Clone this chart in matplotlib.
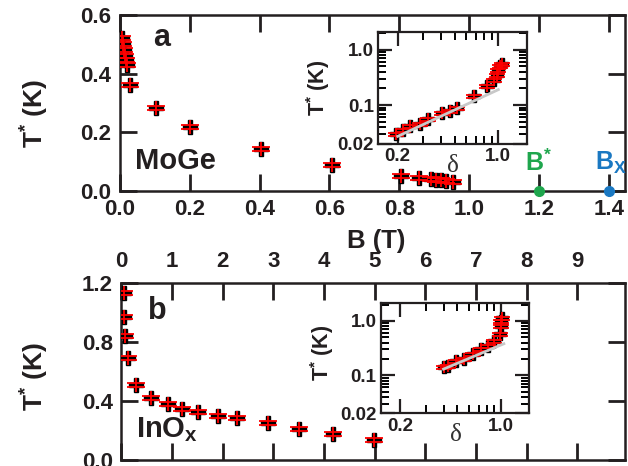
import numpy as np
import matplotlib
matplotlib.use("Agg")
import matplotlib.pyplot as plt
import matplotlib.ticker as mticker
from matplotlib.path import Path

plt.rcParams['font.family'] = ['Liberation Sans', 'DejaVu Sans']
plt.rcParams['font.weight'] = 'bold'
plt.rcParams['mathtext.fontset'] = 'custom'
plt.rcParams['mathtext.rm'] = 'Liberation Sans:bold'
plt.rcParams['mathtext.it'] = 'Liberation Sans:bold'
plt.rcParams['mathtext.bf'] = 'Liberation Sans:bold'
plt.rcParams['mathtext.default'] = 'regular'
plt.rcParams['xtick.direction'] = 'in'
plt.rcParams['ytick.direction'] = 'in'

INK = '#231f20'
GREEN = '#1fa64d'
BLUE = '#1a78c2'

# panel a: MoGe, T* vs B
moge_B = [0.005, 0.009, 0.012, 0.014, 0.016, 0.019, 0.029, 0.104, 0.202, 0.404,
          0.606, 0.805, 0.856, 0.89, 0.905, 0.92, 0.935, 0.955]
moge_T = [0.52, 0.50, 0.48, 0.46, 0.445, 0.43, 0.362, 0.283, 0.217, 0.143,
          0.089, 0.052, 0.044, 0.041, 0.039, 0.036, 0.034, 0.032]
moge_xticks = [0.0, 0.2, 0.4, 0.6, 0.8, 1.0, 1.2, 1.4]
moge_yticks = [0.0, 0.2, 0.4, 0.6]

# inset a: T* vs delta
moge_d = [0.196, 0.218, 0.243, 0.285, 0.326, 0.404, 0.462, 0.514, 0.673,
          0.833, 0.93, 0.98, 1.0, 1.03, 1.06]
moge_Td = [0.030, 0.035, 0.042, 0.045, 0.055, 0.073, 0.078, 0.090, 0.145,
           0.22, 0.29, 0.356, 0.44, 0.50, 0.55]
moge_fit_d = [0.2, 1.0]
moge_fit_T = [0.027, 0.19]

# panel b: InOx, T* vs B
inox_B = [0.065, 0.065, 0.08, 0.13, 0.30, 0.59, 0.92, 1.19, 1.51, 1.91, 2.29,
          2.90, 3.50, 4.18, 4.99]
inox_T = [1.13, 0.97, 0.84, 0.69, 0.508, 0.417, 0.379, 0.343, 0.327, 0.297,
          0.282, 0.248, 0.209, 0.175, 0.134]
inox_xticks = list(range(10))
inox_yticks = [0.0, 0.4, 0.8, 1.2]

# inset b
inox_d = [0.404, 0.43, 0.486, 0.557, 0.637, 0.728, 0.81, 0.90, 0.98, 1.0, 1.0, 1.02]
inox_Td = [0.14, 0.15, 0.185, 0.198, 0.244, 0.30, 0.347, 0.43, 0.57, 0.80, 1.0, 1.15]
inox_fit_d = [0.40, 1.05]
inox_fit_T = [0.13, 0.38]

bar_marker = Path([(-1, 0.18), (1, 0.18), (-1, -0.18), (1, -0.18), (0, -0.75), (0, 0.75)],
                  [Path.MOVETO, Path.LINETO, Path.MOVETO, Path.LINETO, Path.MOVETO, Path.LINETO])


def draw_points(ax, x, y, ms=10):
    ax.plot(x, y, ls='none', marker='P', ms=ms, color='black', mec='black', zorder=3)
    ax.plot(x, y, ls='none', marker=bar_marker, ms=ms + 3, mew=1.3, color='red',
            mfc='none', mec='red', zorder=4)


def inward_ticks(ax, xs, ys, length_pt=12, lw=2.0):
    # tick marks drawn as line collections on all four sides, pointing inward
    fig = ax.figure
    bb = ax.get_position()
    lx = length_pt / (bb.width * fig.get_figwidth() * 72)
    ly = length_pt / (bb.height * fig.get_figheight() * 72)
    xt = ax.get_xaxis_transform()
    yt = ax.get_yaxis_transform()
    kw = dict(colors=INK, linewidth=lw, zorder=2.5, clip_on=False)
    ax.vlines(xs, 0, ly, transform=xt, **kw)
    ax.vlines(xs, 1 - ly, 1, transform=xt, **kw)
    ax.hlines(ys, 0, lx, transform=yt, **kw)
    ax.hlines(ys, 1 - lx, 1, transform=yt, **kw)


def style_main(ax, xs, ys):
    for s in ax.spines.values():
        s.set_linewidth(1.8)
        s.set_color(INK)
    ax.tick_params(axis='both', which='major', direction='in', length=0, width=0,
                   labelsize=16, labelcolor=INK, pad=6)
    inward_ticks(ax, xs, ys)


def inset_ylab(v, pos):
    if v < 0.05:
        return '0.02'
    if v < 0.5:
        return '0.1'
    return '1.0'


def style_inset(ax):
    for s in ax.spines.values():
        s.set_linewidth(1.6)
        s.set_color(INK)
    ax.set_xscale('log')
    ax.set_yscale('log')
    ax.set_xlim(0.146, 1.58)
    ax.set_ylim(0.02, 2.1)
    ax.xaxis.set_major_locator(mticker.FixedLocator([0.2, 1.0]))
    ax.xaxis.set_minor_locator(mticker.FixedLocator([0.3, 0.4, 0.5, 0.6, 0.7, 0.8, 0.9]))
    ax.yaxis.set_major_locator(mticker.FixedLocator([0.02, 0.1, 1.0]))
    ax.yaxis.set_minor_locator(mticker.FixedLocator(
        [0.03, 0.04, 0.05, 0.06, 0.07, 0.08, 0.09, 0.2, 0.3, 0.4, 0.5, 0.6, 0.7, 0.8, 0.9, 2.0]))
    ax.xaxis.set_major_formatter(mticker.FormatStrFormatter('%.1f'))
    ax.yaxis.set_major_formatter(mticker.FuncFormatter(inset_ylab))
    ax.xaxis.set_minor_formatter(mticker.NullFormatter())
    ax.yaxis.set_minor_formatter(mticker.NullFormatter())
    ax.tick_params(which='major', direction='in', length=10, width=1.6,
                   top=True, right=True, labelsize=13.5, colors=INK, pad=3)
    ax.tick_params(which='minor', direction='in', length=6, width=1.4,
                   top=True, right=True)
    ax.text(0.5, -0.2, r'$\delta$', transform=ax.transAxes, ha='center', va='center',
            fontsize=18, color='#333333', family='Liberation Serif', fontweight='normal')


fig = plt.figure(figsize=(6.28, 4.66), dpi=100)

# ---- panel a ----
ax1 = fig.add_axes([0.191, 0.590, 0.804, 0.378])
draw_points(ax1, moge_B, moge_T)
ax1.set_xlim(0, 1.446)
ax1.set_ylim(0, 0.6)
ax1.xaxis.set_major_locator(mticker.FixedLocator(moge_xticks))
ax1.yaxis.set_major_locator(mticker.FixedLocator(moge_yticks))
ax1.xaxis.set_major_formatter(mticker.FormatStrFormatter('%.1f'))
ax1.yaxis.set_major_formatter(mticker.FormatStrFormatter('%.1f'))
style_main(ax1, moge_xticks, moge_yticks)
ax1.plot([1.2], [0.0], 'o', color=GREEN, ms=7, clip_on=False, zorder=5)
ax1.plot([1.4], [0.0], 'o', color=BLUE, ms=7, clip_on=False, zorder=5)
ax1.text(0.065, 0.87, 'a', transform=ax1.transAxes, fontsize=22, color=INK, va='center')
ax1.text(0.03, 0.17, 'MoGe', transform=ax1.transAxes, fontsize=21, color=INK, va='center')
ax1.text(1.2, 0.095, r'B$^{*}$', fontsize=18, color=GREEN, ha='center', va='center')
ax1.text(1.405, 0.095, r'B$_{X}$', fontsize=18, color=BLUE, ha='center', va='center')

ins1 = fig.add_axes([0.602, 0.692, 0.237, 0.239])
style_inset(ins1)
ins1.plot(moge_fit_d, moge_fit_T, color='#c8c8c8', lw=2, zorder=5)
draw_points(ins1, moge_d, moge_Td, ms=9)
fig.text(0.506, 0.812, r'T$^{*}$ (K)', rotation=90, fontsize=15.5, color=INK,
         ha='center', va='center')

# ---- panel b ----
ax2 = fig.add_axes([0.193, 0.013, 0.802, 0.380])
draw_points(ax2, inox_B, inox_T)
ax2.set_xlim(0, 9.94)
ax2.set_ylim(0, 1.2)
ax2.xaxis.set_major_locator(mticker.FixedLocator(inox_xticks))
ax2.yaxis.set_major_locator(mticker.FixedLocator(inox_yticks))
ax2.xaxis.set_major_formatter(mticker.FormatStrFormatter('%d'))
ax2.yaxis.set_major_formatter(mticker.FormatStrFormatter('%.1f'))
style_main(ax2, inox_xticks, inox_yticks)
ax2.tick_params(axis='x', labeltop=True, labelbottom=False, pad=8)
ax2.text(0.053, 0.84, 'b', transform=ax2.transAxes, fontsize=22, color=INK, va='center')
ax2.text(0.03, 0.17, r'InO$_{x}$', transform=ax2.transAxes, fontsize=21, color=INK,
         va='center')

ins2 = fig.add_axes([0.606, 0.113, 0.237, 0.236])
style_inset(ins2)
draw_points(ins2, inox_d, inox_Td, ms=9)
ins2.plot(inox_fit_d, inox_fit_T, color='#c8c8c8', lw=2, zorder=5)
fig.text(0.513, 0.243, r'T$^{*}$ (K)', rotation=90, fontsize=15.5, color=INK,
         ha='center', va='center')

# shared labels
fig.text(0.599, 0.483, 'B (T)', fontsize=18.5, color=INK, ha='center', va='center')
fig.text(0.055, 0.757, r'T$^{*}$ (K)', rotation=90, fontsize=19, color=INK,
         ha='center', va='center')
fig.text(0.055, 0.193, r'T$^{*}$ (K)', rotation=90, fontsize=19, color=INK,
         ha='center', va='center')

fig.savefig('out.png', dpi=100)
